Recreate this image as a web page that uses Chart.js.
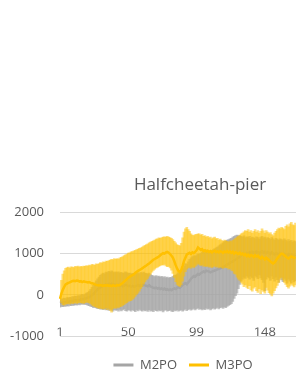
<!DOCTYPE html>
<html>
<head>
<meta charset="utf-8">
<script src="https://cdn.jsdelivr.net/npm/chart.js@4.4.0/dist/chart.umd.min.js"></script>
<style>
  html, body { margin: 0; padding: 0; background: #fff; overflow: hidden; }
  #wrap { width: 414px; height: 383px; }
</style>
</head>
<body>
<div id="wrap"><canvas id="chart" width="414" height="383"></canvas></div>
<script>
// ============================================
// Halfcheetah-pier : M2PO vs M3PO (mean + error bars)
// ============================================

const TITLE = "Halfcheetah-pier";
const CATEGORY_COUNT = 245;
const categories = Array.from({ length: CATEGORY_COUNT }, (_, i) => String(i + 1));
const xTickLabels = ["1", "50", "99", "148", "197"];
const yTicks = [-1000, 0, 1000, 2000];
const seriesNames = ["M2PO", "M3PO"];

// M2PO (grey)
const m2Mean = [
  -200, -190, -185, -175, -180, -165, -170, -155, -160, -145,
  -150, -135, -140, -125, -130, -115, -105, -110, -95, -80,
  -70, -55, -35, -10, 20, 55, 95, 130, 160, 185,
  205, 230, 220, 250, 240, 265, 250, 270, 255, 245,
  250, 235, 245, 225, 235, 210, 225, 240, 230, 215,
  220, 200, 215, 195, 205, 220, 235, 215, 240, 225,
  245, 230, 220, 205, 230, 200, 185, 170, 160, 175,
  150, 165, 140, 155, 130, 150, 120, 135, 115, 130,
  110, 135, 155, 140, 165, 185, 170, 205, 235, 265,
  280, 255, 300, 340, 390, 425, 455, 440, 475, 505,
  490, 525, 545, 565, 550, 585, 575, 560, 545, 560,
  575, 590, 600, 615, 635, 645, 660, 670, 695, 715,
  735, 750, 775, 790, 810, 835, 850, 875, 895, 925,
  950, 985, 1000, 985, 1015, 995, 1030, 1010, 1045, 1030,
  1010, 1050, 1035, 1005, 1040, 1060, 1025, 1045, 1010, 1035,
  1020, 990, 1030, 1005, 980, 1015, 995, 970, 1010, 985,
  960, 1000, 975, 945, 985, 950, 970, 930, 955, 940,
];
const m2Low = [
  -300, -285, -290, -275, -285, -265, -275, -255, -265, -250,
  -255, -240, -250, -235, -245, -230, -225, -235, -230, -240,
  -255, -265, -280, -290, -310, -300, -320, -335, -330, -350,
  -345, -360, -340, -370, -355, -380, -350, -375, -395, -360,
  -380, -365, -400, -355, -390, -370, -345, -385, -400, -365,
  -375, -395, -360, -385, -410, -370, -390, -355, -380, -400,
  -365, -390, -375, -405, -360, -395, -380, -410, -370, -385,
  -400, -365, -390, -375, -415, -380, -360, -395, -385, -370,
  -395, -410, -375, -390, -360, -400, -380, -365, -395, -375,
  -350, -385, -360, -340, -375, -355, -330, -365, -345, -320,
  -355, -335, -370, -340, -360, -325, -350, -330, -365, -340,
  -320, -350, -330, -305, -340, -315, -300, -330, -295, -310,
  -280, -260, -240, -215, -160, -90, -20, 40, 150, 250,
  330, 380, 430, 400, 460, 420, 380, 450, 410, 350,
  470, 430, 390, 480, 410, 370, 300, 100, 380, 440,
  410, 350, 460, 390, 330, 430, 370, 300, 420, 360,
  320, 400, 350, 280, 380, 330, 290, 360, 310, 340,
];
const m2High = [
  -120, -100, -95, -80, -90, -70, -75, -60, -65, -45,
  -50, -30, -40, -20, -25, -5, 10, 0, 20, 40,
  60, 90, 130, 180, 230, 290, 340, 390, 430, 470,
  500, 530, 510, 550, 540, 570, 550, 580, 560, 540,
  560, 540, 555, 530, 545, 520, 535, 555, 540, 520,
  530, 505, 520, 500, 510, 525, 540, 515, 545, 530,
  550, 530, 520, 500, 525, 490, 470, 460, 445, 465,
  440, 455, 430, 450, 420, 445, 410, 430, 405, 425,
  420, 450, 480, 470, 500, 540, 520, 580, 640, 700,
  760, 740, 800, 860, 900, 930, 950, 940, 970, 990,
  980, 1010, 1040, 1060, 1050, 1090, 1080, 1070, 1060, 1080,
  1100, 1120, 1140, 1160, 1190, 1210, 1240, 1260, 1290, 1310,
  1330, 1340, 1360, 1370, 1400, 1420, 1440, 1450, 1440, 1430,
  1420, 1400, 1430, 1380, 1410, 1390, 1420, 1370, 1400, 1380,
  1360, 1410, 1390, 1350, 1400, 1420, 1380, 1400, 1360, 1390,
  1370, 1340, 1390, 1360, 1330, 1370, 1350, 1320, 1360, 1340,
  1310, 1360, 1330, 1290, 1340, 1300, 1320, 1280, 1310, 1290,
];

// M3PO (gold)
const m3Mean = [
  -100, 30, 120, 190, 250, 270, 290, 300, 320, 335,
  340, 330, 345, 340, 320, 330, 310, 325, 315, 310,
  300, 310, 290, 280, 270, 255, 240, 230, 225, 235,
  225, 215, 230, 220, 235, 215, 225, 210, 230, 220,
  215, 235, 225, 240, 260, 290, 320, 350, 380, 410,
  440, 460, 475, 500, 530, 560, 580, 600, 620, 640,
  670, 690, 710, 740, 760, 790, 820, 850, 870, 890,
  910, 930, 960, 990, 1010, 1000, 1030, 1040, 1020, 990,
  950, 900, 820, 720, 640, 580, 550, 600, 700, 820,
  900, 980, 1000, 1020, 990, 1030, 1010, 1040, 1080, 1150,
  1120, 1090, 1110, 1060, 1080, 1050, 1070, 1040, 1060, 1030,
  1050, 1070, 1040, 1055, 1030, 1060, 1045, 1020, 1050, 1035,
  1060, 1030, 1050, 1020, 1045, 1000, 1030, 1010, 990, 1020,
  980, 1000, 960, 990, 940, 970, 930, 960, 950, 920,
  960, 930, 950, 910, 880, 920, 890, 860, 900, 870,
  840, 810, 780, 760, 790, 830, 880, 930, 970, 1000,
  990, 960, 930, 900, 880, 910, 930, 915, 900, 890,
];
const m3Low = [
  -140, -200, -240, -250, -230, -220, -210, -225, -200, -215,
  -205, -190, -210, -200, -185, -200, -195, -210, -190, -180,
  -185, -200, -220, -250, -270, -290, -300, -310, -330, -320,
  -340, -330, -350, -310, -360, -330, -380, -420, -340, -310,
  -330, -300, -320, -290, -280, -260, -240, -210, -190, -160,
  -150, -140, -110, -80, -40, 0, 40, 90, 150, 200,
  260, 310, 360, 400, 450, 500, 550, 590, 620, 650,
  670, 690, 710, 730, 720, 740, 700, 680, 690, 650,
  600, 520, 420, 320, 250, 220, 200, 240, 330, 450,
  560, 620, 650, 670, 640, 680, 660, 690, 720, 760,
  740, 710, 730, 690, 710, 680, 700, 670, 690, 660,
  680, 700, 670, 690, 650, 680, 660, 640, 670, 650,
  660, 620, 640, 600, 580, 520, 500, 430, 380, 350,
  300, 260, 200, 240, 180, 150, 220, 120, 90, 160,
  200, 100, 60, 150, 30, 120, 80, 40, 180, 110,
  50, 20, -30, 40, 100, 170, 230, 300, 380, 420,
  360, 300, 250, 200, 160, 210, 260, 230, 190, 240,
];
const m3High = [
  0, 350, 500, 580, 640, 660, 670, 650, 680, 670,
  660, 690, 680, 700, 670, 690, 680, 700, 690, 710,
  700, 720, 710, 740, 730, 720, 750, 740, 760, 780,
  770, 800, 790, 820, 810, 830, 840, 860, 850, 880,
  860, 880, 870, 900, 910, 930, 950, 970, 990, 1010,
  1020, 1040, 1050, 1070, 1080, 1100, 1110, 1130, 1140, 1160,
  1180, 1200, 1220, 1240, 1260, 1280, 1300, 1310, 1330, 1350,
  1360, 1380, 1370, 1390, 1400, 1410, 1400, 1420, 1400, 1390,
  1370, 1340, 1300, 1260, 1220, 1200, 1190, 1250, 1380, 1520,
  1600, 1640, 1580, 1540, 1480, 1450, 1440, 1460, 1470, 1480,
  1480, 1450, 1470, 1420, 1440, 1400, 1420, 1380, 1400, 1360,
  1380, 1400, 1360, 1370, 1330, 1350, 1320, 1300, 1330, 1310,
  1300, 1280, 1310, 1290, 1320, 1340, 1370, 1400, 1420, 1450,
  1480, 1500, 1530, 1560, 1540, 1580, 1520, 1560, 1500, 1540,
  1580, 1520, 1560, 1500, 1540, 1600, 1550, 1500, 1560, 1520,
  1480, 1510, 1460, 1430, 1500, 1540, 1580, 1620, 1600, 1640,
  1620, 1580, 1660, 1700, 1650, 1720, 1760, 1700, 1680, 1740,
];

// ============================================
// styling
// ============================================
const GREY = "#A5A5A5";
const GOLD = "#FFC000";
const TEXT = "#595959";
const LEGEND_DX = -17;
const LEGEND_DY = 19;

Chart.defaults.font.family = "'Open Sans', sans-serif";
Chart.defaults.color = TEXT;

const toRange = (lo, hi) => lo.map((v, i) => [v, hi[i]]);

// moves the legend box where Excel put it
const legendShift = {
  id: "legendShift",
  afterLayout(chart) {
    const lg = chart.legend;
    lg.left += LEGEND_DX;
    lg.right += LEGEND_DX;
    lg.top += LEGEND_DY;
    lg.bottom += LEGEND_DY;
  },
};

const ctx = document.getElementById("chart").getContext("2d");
new Chart(ctx, {
  data: {
    labels: categories,
    datasets: [
      {
        type: "bar",
        label: seriesNames[0] + " err",
        data: toRange(m2Low, m2High),
        backgroundColor: "rgba(165,165,165,0.68)",
        barThickness: 2,
        grouped: false,
        order: 4,
      },
      {
        type: "line",
        label: seriesNames[0],
        data: m2Mean,
        borderColor: GREY,
        backgroundColor: GREY,
        borderWidth: 2.5,
        pointRadius: 0,
        order: 3,
      },
      {
        type: "bar",
        label: seriesNames[1] + " err",
        data: toRange(m3Low, m3High),
        backgroundColor: "rgba(255,192,0,0.52)",
        barThickness: 2,
        grouped: false,
        order: 2,
      },
      {
        type: "line",
        label: seriesNames[1],
        data: m3Mean,
        borderColor: GOLD,
        backgroundColor: GOLD,
        borderWidth: 2.5,
        pointRadius: 0,
        order: 1,
      },
    ],
  },
  options: {
    responsive: false,
    animation: false,
    layout: { padding: { left: 0, right: 14, top: 0, bottom: 12 } },
    plugins: {
      title: {
        display: true,
        text: TITLE,
        color: TEXT,
        font: { size: 17, weight: "normal" },
        padding: { top: 175, bottom: 17 },
      },
      legend: {
        position: "bottom",
        labels: {
          boxWidth: 20,
          boxHeight: 3,
          color: TEXT,
          font: { size: 13 },
          padding: 12,
          filter: (item, data) => data.datasets[item.datasetIndex].type === "line",
          sort: (a, b) => a.datasetIndex - b.datasetIndex,
          generateLabels: (chart) =>
            Chart.defaults.plugins.legend.labels
              .generateLabels(chart)
              .map((it) => ({ ...it, lineWidth: 0 })),
        },
      },
      tooltip: { enabled: false },
    },
    scales: {
      x: {
        type: "category",
        offset: false,
        grid: { display: false, drawTicks: false },
        border: { display: false },
        ticks: {
          autoSkip: false,
          maxRotation: 0,
          padding: -12,
          font: { size: 13 },
          callback: (v, i) => (xTickLabels.includes(categories[i]) ? categories[i] : null),
        },
      },
      y: {
        min: -1000,
        max: 2000,
        afterBuildTicks: (scale) => {
          scale.ticks = yTicks.map((v) => ({ value: v }));
        },
        afterFit: (scale) => {
          scale.width = 60;
        },
        grid: { color: "#D9D9D9", drawTicks: false },
        border: { display: false },
        ticks: { padding: 16, font: { size: 13 }, callback: (v) => String(v) },
      },
    },
  },
  plugins: [legendShift],
});
</script>
</body>
</html>
